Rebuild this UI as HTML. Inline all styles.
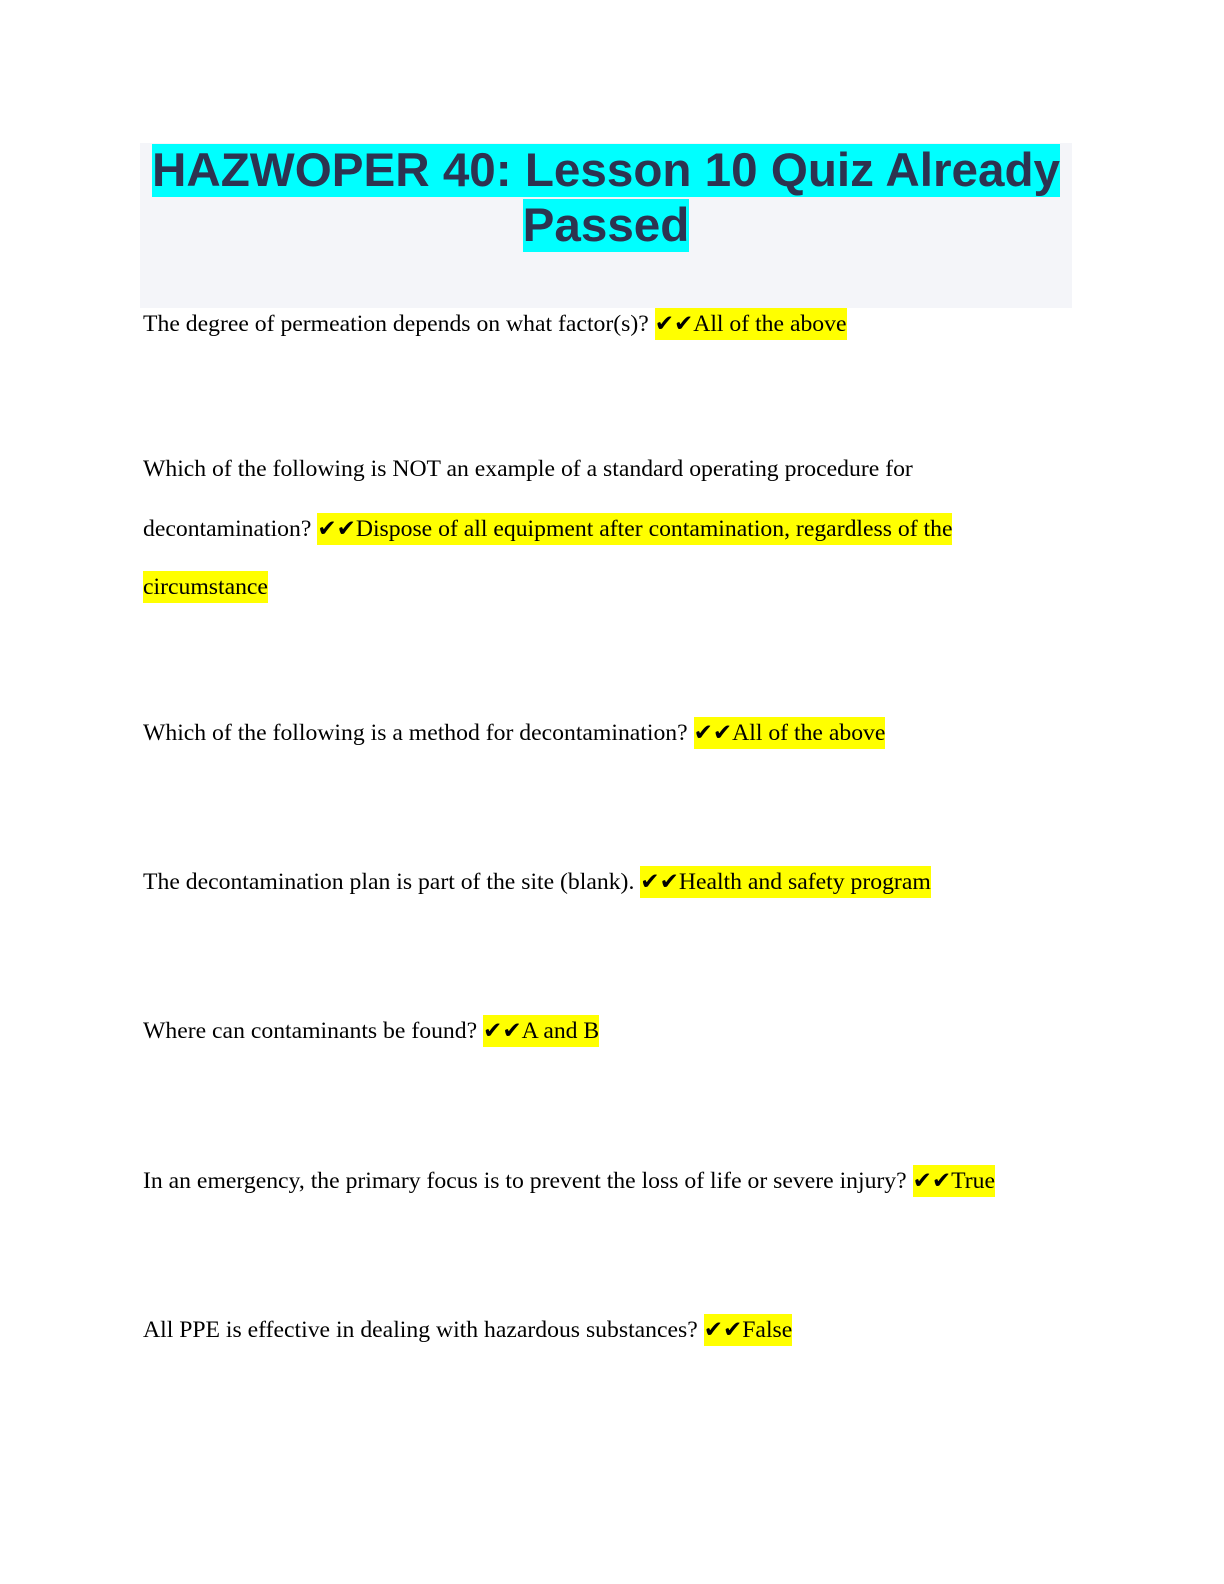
<!DOCTYPE html>
<html><head><meta charset="utf-8"><style>
body{margin:0;width:1224px;height:1584px;background:#fff;position:relative;}
.box{position:absolute;left:140px;top:143px;width:932px;height:165px;background:#f4f5f9;}
.title{position:absolute;left:140px;top:143px;width:932px;text-align:center;font:bold 47.6px/55px "Liberation Sans",sans-serif;color:#2d3350;}
.title span{background:#00ffff;}
.l{position:absolute;left:143px;font:23.7px/30px "Liberation Serif",serif;color:#000;white-space:nowrap;}
.h{background:#ffff00;padding:3px 0;}
.c{font-family:"DejaVu Sans",sans-serif;font-size:23px;line-height:20px;}
</style></head><body>
<div class="box"></div>
<div class="title"><span>HAZWOPER 40: Lesson 10 Quiz Already</span><br><span>Passed</span></div>
<div class="l" style="top:309px">The degree of permeation depends on what factor(s)? <span class="h"><span class="c">✔✔</span>All of the above</span></div>
<div class="l" style="top:454px">Which of the following is NOT an example of a standard operating procedure for</div>
<div class="l" style="top:514px">decontamination? <span class="h"><span class="c">✔✔</span>Dispose of all equipment after contamination, regardless of the</span></div>
<div class="l" style="top:572px"><span class="h">circumstance</span></div>
<div class="l" style="top:718px">Which of the following is a method for decontamination? <span class="h"><span class="c">✔✔</span>All of the above</span></div>
<div class="l" style="top:867px">The decontamination plan is part of the site (blank). <span class="h"><span class="c">✔✔</span>Health and safety program</span></div>
<div class="l" style="top:1016px">Where can contaminants be found? <span class="h"><span class="c">✔✔</span>A and B</span></div>
<div class="l" style="top:1166px">In an emergency, the primary focus is to prevent the loss of life or severe injury? <span class="h"><span class="c">✔✔</span>True</span></div>
<div class="l" style="top:1315px">All PPE is effective in dealing with hazardous substances? <span class="h"><span class="c">✔✔</span>False</span></div>
</body></html>
